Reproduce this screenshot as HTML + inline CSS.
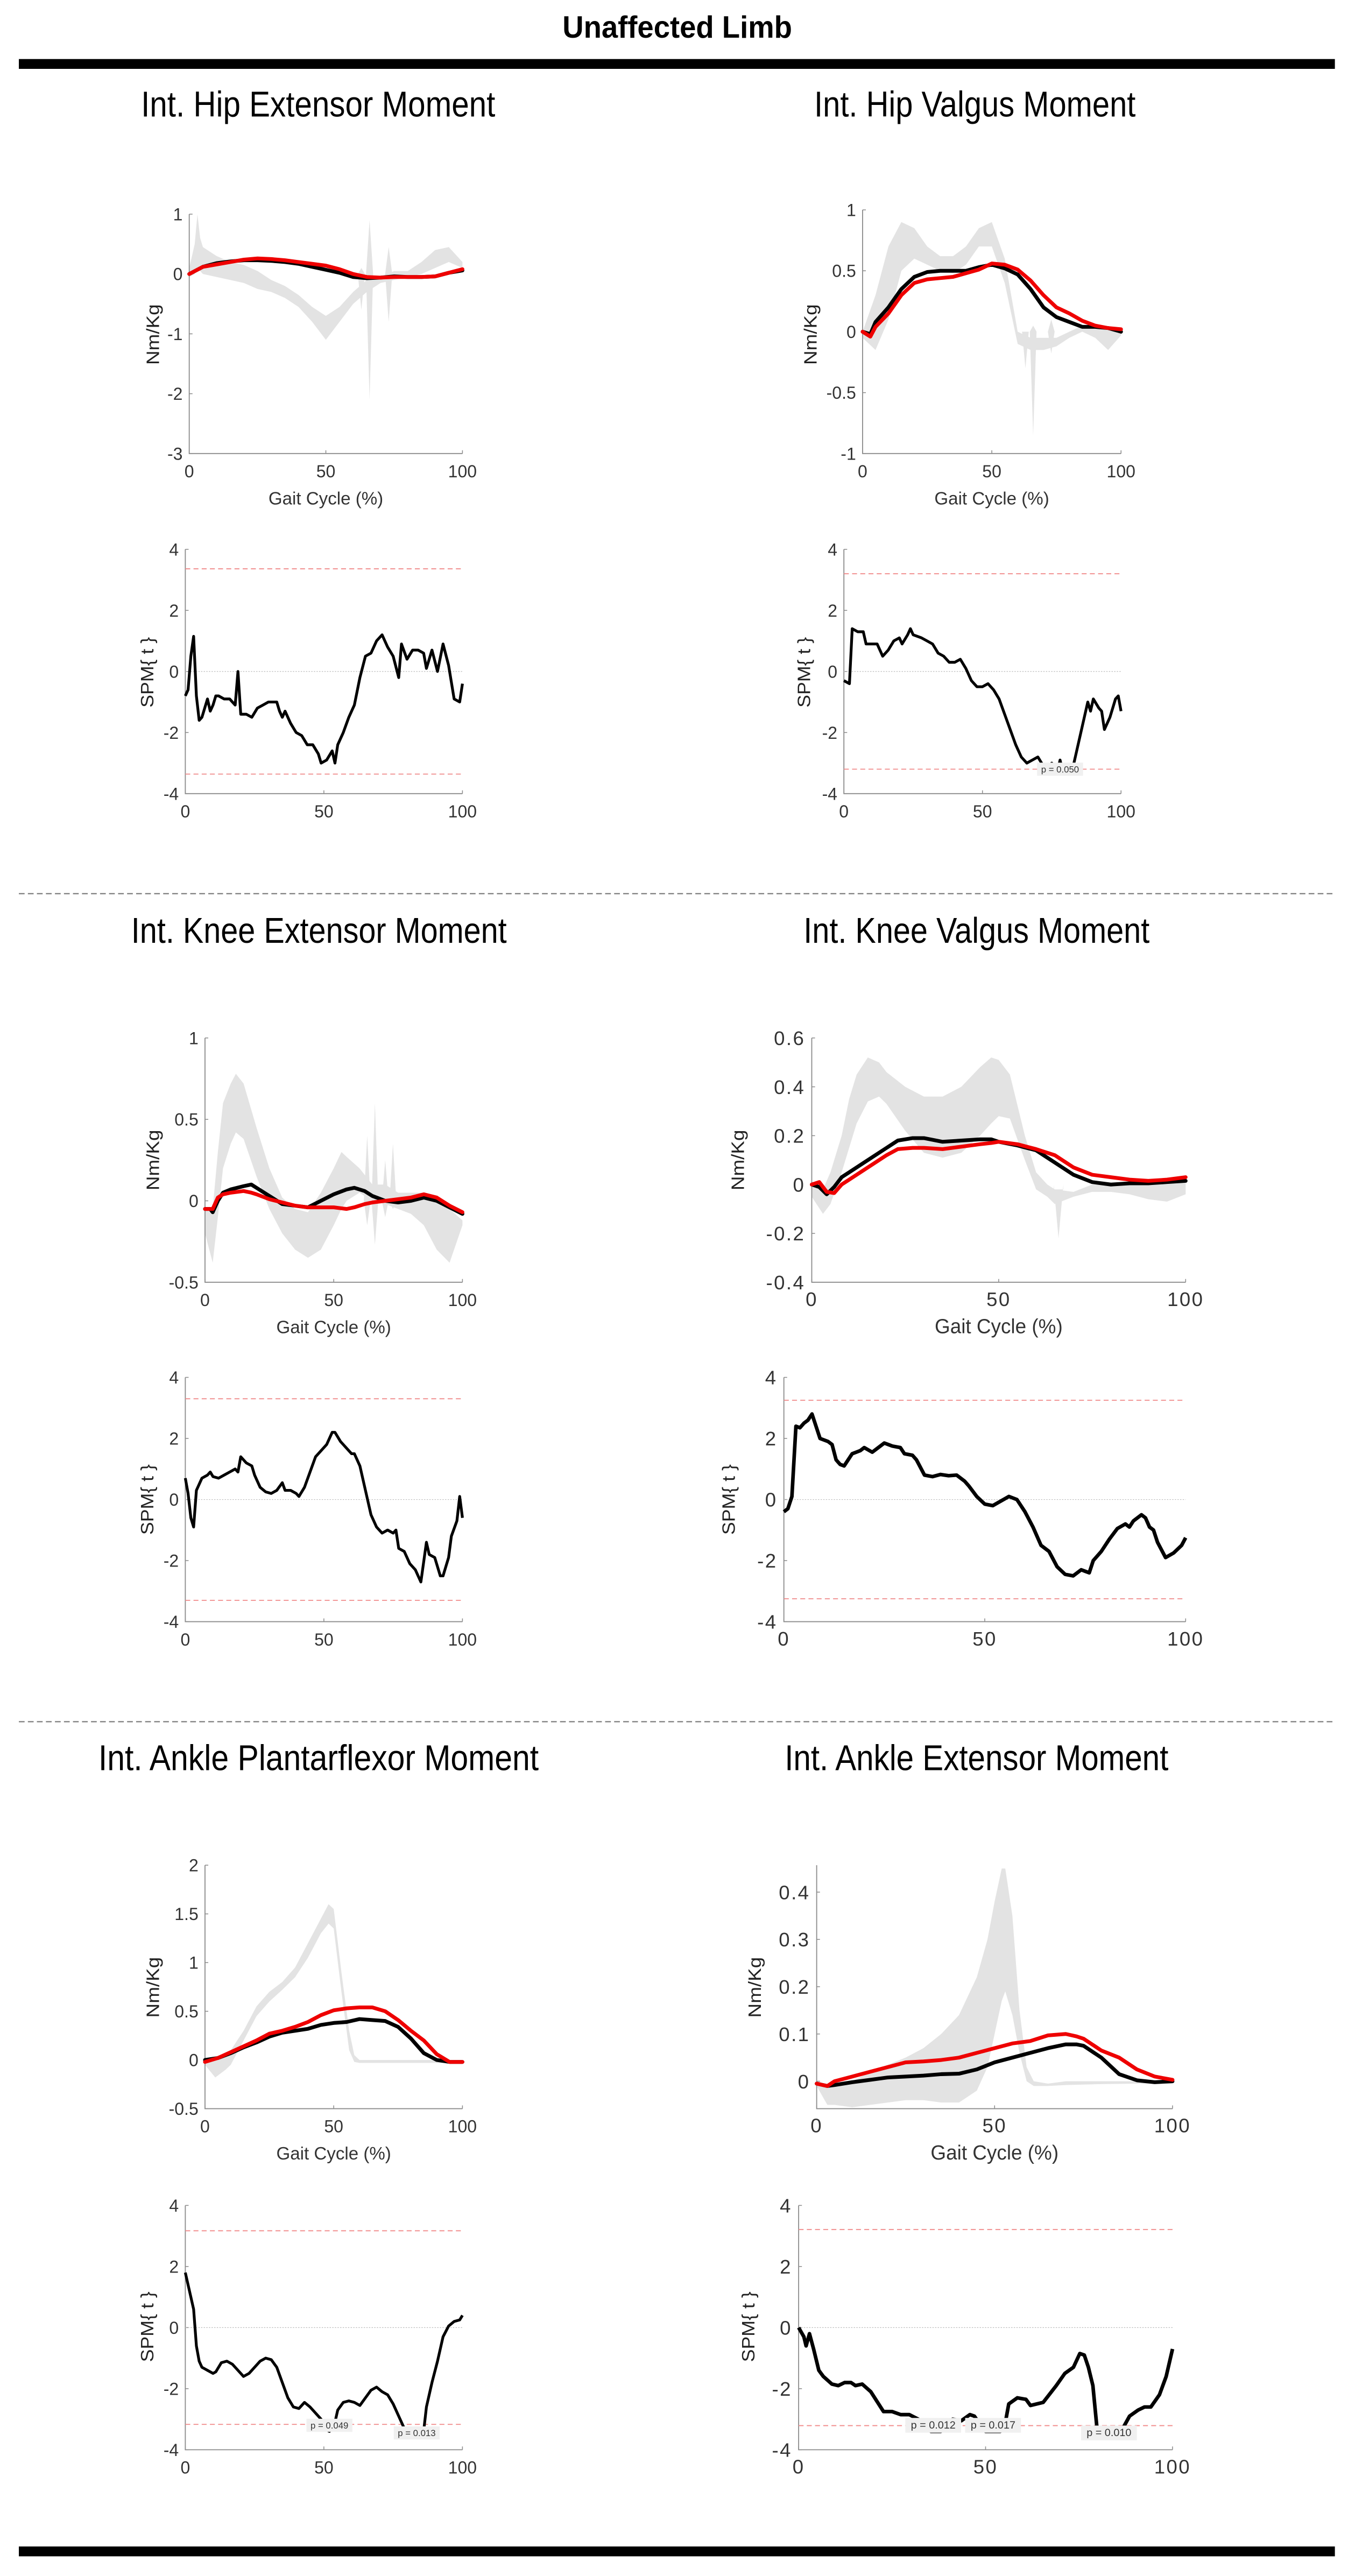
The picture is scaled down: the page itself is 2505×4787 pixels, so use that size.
<!DOCTYPE html>
<html><head><meta charset="utf-8"><title>Unaffected Limb</title>
<style>
html,body{margin:0;padding:0;background:#fff;}
svg{display:block;}
text{font-family:"Liberation Sans",sans-serif;}
</style></head>
<body>
<svg id="fig" width="2505" height="4787" viewBox="0 0 822 1571" preserveAspectRatio="none" xmlns="http://www.w3.org/2000/svg">
<text x="343" y="23" font-size="19" font-weight="bold" textLength="140" lengthAdjust="spacingAndGlyphs">Unaffected Limb</text>
<rect x="11.5" y="36" width="802.5" height="6" fill="#000"/>
<line x1="11.5" y1="545" x2="814" y2="545" stroke="#777" stroke-width="0.7" stroke-dasharray="3.5,2"/>
<line x1="11.5" y1="1050" x2="814" y2="1050" stroke="#777" stroke-width="0.7" stroke-dasharray="3.5,2"/>
<rect x="11.5" y="1553" width="802.5" height="6" fill="#000"/>
</svg>
<script>
// ===== Panel 1: Int. Hip Extensor Moment =====
const p1X=[0,5,10,15,20,25,30,35,40,45,50,55,60,65,70,75,80,85,90,95,100];
const p1Black=[0,0.12,0.18,0.21,0.23,0.23,0.22,0.2,0.17,0.12,0.07,0.02,-0.05,-0.07,-0.06,-0.04,-0.05,-0.05,-0.04,0.02,0.06];
const p1Red=[0,0.12,0.16,0.2,0.24,0.26,0.25,0.23,0.2,0.17,0.14,0.08,0,-0.05,-0.06,-0.05,-0.05,-0.05,-0.04,0.02,0.08];
const p1BandX=[0,2,3,4,5,10,15,20,25,30,35,40,45,50,55,60,65,70,75,80,85,90,95,100];
const p1BandHi=[0.1,0.5,1.0,0.6,0.45,0.3,0.2,0.15,0.05,-0.1,-0.2,-0.35,-0.55,-0.7,-0.55,-0.3,-0.1,-0.05,0.05,0.05,0.2,0.4,0.45,0.2];
const p1BandLo=[-0.05,0.0,0.1,0.05,0.0,-0.05,-0.1,-0.15,-0.25,-0.3,-0.4,-0.55,-0.8,-1.1,-0.8,-0.5,-0.3,-0.15,-0.1,-0.05,0.0,0.1,0.2,0.1];
const p1SpikeX=[63,66,73];
const p1SpikeLo=[-0.6,-2.1,-0.8];
const p1SpikeHi=[0.1,0.9,0.45];
const p1YTicks=[1,0,-1,-2,-3];
const p1SpmX=[0,1,2,3,4,5,6,7,8,9,10,11,12,14,16,18,19,20,22,24,26,28,30,32,33,34,35,36,38,40,42,44,46,48,49,51,53,54,55,57,59,61,63,65,67,69,71,73,75,77,78,80,82,84,86,87,89,91,93,95,97,99,100];
const p1Spm=[-0.8,-0.6,0.5,1.15,-0.8,-1.6,-1.5,-1.2,-0.9,-1.3,-1.1,-0.8,-0.8,-0.9,-0.9,-1.1,0.0,-1.4,-1.4,-1.5,-1.2,-1.1,-1.0,-1.0,-1.0,-1.3,-1.5,-1.3,-1.7,-2.0,-2.1,-2.4,-2.4,-2.7,-3.0,-2.9,-2.6,-3.0,-2.4,-2.0,-1.5,-1.1,-0.2,0.5,0.6,1.0,1.2,0.8,0.5,-0.2,0.9,0.4,0.7,0.7,0.6,0.1,0.7,0.0,0.9,0.2,-0.9,-1.0,-0.4];
const p1Thr=[3.36];
const p1PLabels=[];
const p1PX=[];
const p1PY=[];

// ===== Panel 2: Int. Hip Valgus Moment =====
const p2X=[0,3,5,10,15,20,25,30,35,40,45,50,55,60,65,70,75,80,85,90,95,100];
const p2Black=[0,-0.02,0.08,0.2,0.35,0.45,0.49,0.5,0.5,0.5,0.53,0.55,0.52,0.47,0.35,0.2,0.12,0.08,0.04,0.04,0.03,0.0];
const p2Red=[0,-0.04,0.04,0.15,0.3,0.4,0.43,0.44,0.45,0.48,0.51,0.56,0.55,0.51,0.42,0.3,0.2,0.15,0.09,0.05,0.03,0.02];
const p2BandX=[0,5,10,15,20,25,30,35,40,45,50,55,60,65,70,75,80,85,90,95,100];
const p2BandHi=[0,0.3,0.7,0.9,0.85,0.7,0.62,0.62,0.7,0.85,0.9,0.6,0.0,-0.05,-0.05,-0.05,0.0,0.05,0.05,0.02,0.0];
const p2BandLo=[-0.05,-0.15,0.1,0.5,0.6,0.55,0.5,0.48,0.55,0.7,0.7,0.4,-0.1,-0.15,-0.15,-0.12,-0.05,0.0,-0.05,-0.15,-0.03];
const p2SpikeX=[63,66,73];
const p2SpikeLo=[-0.3,-0.85,-0.18];
const p2SpikeHi=[0.0,0.05,0.1];
const p2YTicks=[1,0.5,0,-0.5,-1];
const p2SpmX=[0,2,3,5,7,8,10,12,14,16,18,20,21,23,24,25,28,30,32,34,36,38,40,42,44,46,48,50,52,54,56,58,60,62,64,66,68,70,72,74,75,77,78,79,81,83,84,86,88,89,90,92,93,94,96,98,99,100];
const p2Spm=[-0.3,-0.4,1.4,1.3,1.3,0.9,0.9,0.9,0.5,0.7,1.0,1.1,0.9,1.2,1.4,1.2,1.1,1.0,0.9,0.6,0.5,0.3,0.3,0.4,0.1,-0.3,-0.5,-0.5,-0.4,-0.6,-0.9,-1.4,-1.9,-2.4,-2.8,-3.0,-2.9,-2.8,-3.1,-3.3,-3.0,-3.3,-2.9,-3.3,-3.3,-3.0,-2.6,-1.8,-1.0,-1.3,-0.9,-1.2,-1.3,-1.9,-1.5,-0.9,-0.8,-1.3];
const p2Thr=[3.2];
const p2PLabels=['p = 0.050'];
const p2PX=[78];
const p2PY=[-3.2];

// ===== Panel 3: Int. Knee Extensor Moment =====
const p3X=[0,2,3,5,7,10,15,18,20,25,30,35,40,45,50,55,58,62,65,70,75,80,85,90,95,100];
const p3Black=[-0.05,-0.05,-0.07,0.0,0.05,0.07,0.09,0.1,0.08,0.03,-0.02,-0.03,-0.04,0.0,0.04,0.07,0.08,0.06,0.03,0.0,-0.01,0.0,0.02,0.0,-0.04,-0.08];
const p3Red=[-0.05,-0.05,-0.05,0.02,0.04,0.05,0.06,0.05,0.04,0.01,-0.01,-0.03,-0.04,-0.04,-0.04,-0.05,-0.04,-0.02,-0.01,0.0,0.01,0.02,0.04,0.02,-0.03,-0.07];
const p3BandX=[0,3,5,7,10,12,15,20,25,30,35,40,45,50,53,55,60,65,70,75,80,85,90,95,100];
const p3BandHi=[-0.05,-0.05,0.3,0.6,0.72,0.78,0.72,0.45,0.2,0.02,-0.05,-0.07,0.05,0.2,0.3,0.27,0.2,0.1,0.1,0.05,0.05,0.05,0.0,-0.05,-0.12];
const p3BandLo=[-0.2,-0.38,-0.1,0.2,0.35,0.42,0.38,0.15,-0.05,-0.2,-0.3,-0.35,-0.3,-0.15,-0.05,0.0,0.05,0.0,-0.02,-0.05,-0.08,-0.15,-0.3,-0.38,-0.15];
const p3SpikeX=[63,66,70,73];
const p3SpikeLo=[-0.15,-0.27,-0.1,-0.05];
const p3SpikeHi=[0.4,0.6,0.25,0.35];
const p3YTicks=[1,0.5,0,-0.5];
const p3SpmX=[0,1,2,3,4,5,6,8,9,10,12,14,16,18,19,20,22,24,25,27,29,31,33,35,36,38,40,41,43,45,47,49,51,53,54,56,58,60,61,63,65,67,69,71,73,75,76,77,79,81,83,85,87,88,90,92,93,95,96,98,99,100];
const p3Spm=[0.7,0.2,-0.6,-0.9,0.3,0.5,0.7,0.8,0.9,0.75,0.7,0.8,0.9,1.0,0.9,1.4,1.2,1.1,0.8,0.4,0.25,0.2,0.3,0.55,0.3,0.3,0.2,0.1,0.4,0.9,1.4,1.6,1.8,2.2,2.2,1.9,1.7,1.5,1.5,1.1,0.3,-0.5,-0.9,-1.1,-1.0,-1.1,-1.0,-1.6,-1.7,-2.1,-2.3,-2.7,-1.4,-1.8,-1.9,-2.5,-2.5,-1.9,-1.2,-0.7,0.1,-0.6];
const p3Thr=[3.3];
const p3PLabels=[];
const p3PX=[];
const p3PY=[];

// ===== Panel 4: Int. Knee Valgus Moment =====
const p4X=[0,2,4,6,8,10,15,20,23,27,30,35,40,45,48,50,55,60,65,70,75,80,85,90,95,100];
const p4Black=[0,-0.01,-0.04,-0.01,0.03,0.05,0.1,0.15,0.18,0.19,0.19,0.175,0.18,0.185,0.185,0.175,0.16,0.14,0.09,0.04,0.01,0.0,0.005,0.005,0.01,0.015];
const p4Red=[0,0.01,-0.03,-0.035,0.0,0.02,0.07,0.12,0.145,0.15,0.15,0.145,0.155,0.165,0.17,0.175,0.165,0.145,0.12,0.07,0.04,0.03,0.02,0.015,0.02,0.03];
const p4BandX=[0,3,5,8,10,12,15,18,20,25,30,35,40,45,48,50,53,57,60,63,65,70,75,80,85,90,95,100];
const p4BandHi=[0,-0.02,0.05,0.2,0.35,0.45,0.52,0.5,0.46,0.4,0.36,0.36,0.4,0.48,0.52,0.51,0.45,0.2,0.05,0.0,-0.02,-0.03,0.0,0.0,0.0,0.01,0.01,0.01];
const p4BandLo=[-0.05,-0.12,-0.08,0.05,0.15,0.25,0.34,0.36,0.33,0.22,0.13,0.11,0.13,0.2,0.25,0.28,0.27,0.1,-0.02,-0.05,-0.08,-0.05,-0.03,-0.03,-0.04,-0.06,-0.07,-0.04];
const p4SpikeX=[66];
const p4SpikeLo=[-0.22];
const p4SpikeHi=[-0.02];
const p4YTicks=[0.6,0.4,0.2,0,-0.2,-0.4];
const p4SpmX=[0,1,2,3,4,5,6,7,8,9,11,12,13,14,15,17,19,20,22,23,25,27,29,30,32,33,35,37,39,41,43,45,46,48,50,52,54,56,58,60,62,64,66,68,70,72,74,75,76,77,79,81,83,85,86,87,89,90,91,92,93,95,97,99,100];
const p4Spm=[-0.4,-0.3,0.1,2.4,2.35,2.5,2.6,2.8,2.4,2.0,1.9,1.8,1.3,1.15,1.1,1.5,1.6,1.7,1.55,1.65,1.85,1.75,1.7,1.5,1.45,1.3,0.8,0.75,0.82,0.78,0.8,0.6,0.45,0.1,-0.15,-0.2,-0.05,0.1,0.0,-0.4,-0.9,-1.5,-1.7,-2.2,-2.45,-2.5,-2.3,-2.35,-2.4,-2.0,-1.7,-1.3,-0.95,-0.8,-0.9,-0.7,-0.5,-0.6,-0.9,-1.0,-1.4,-1.9,-1.75,-1.5,-1.25];
const p4Thr=[3.25];
const p4PLabels=[];
const p4PX=[];
const p4PY=[];

// ===== Panel 5: Int. Ankle Plantarflexor Moment =====
const p5X=[0,5,10,15,20,25,30,35,40,45,50,55,60,65,70,75,80,85,90,95,100];
const p5Black=[0,0.02,0.07,0.13,0.18,0.24,0.28,0.3,0.32,0.36,0.38,0.39,0.42,0.41,0.4,0.34,0.22,0.07,0.0,-0.02,-0.02];
const p5Red=[-0.02,0.02,0.08,0.14,0.2,0.27,0.3,0.34,0.39,0.46,0.51,0.53,0.54,0.54,0.5,0.41,0.3,0.2,0.06,-0.02,-0.02];
const p5BandX=[0,4,8,10,15,20,25,30,35,40,45,48,50,53,56,58,60,70,80,90,100];
const p5BandHi=[0.0,0.0,0.05,0.1,0.3,0.55,0.7,0.8,0.95,1.2,1.45,1.6,1.55,0.9,0.3,0.05,0.0,0.0,0.0,0.0,0.0];
const p5BandLo=[-0.05,-0.18,-0.1,-0.05,0.2,0.45,0.6,0.72,0.85,1.05,1.3,1.4,1.35,0.7,0.1,-0.02,-0.03,-0.03,-0.03,-0.03,-0.03];
const p5SpikeX=[];
const p5SpikeLo=[];
const p5SpikeHi=[];
const p5YTicks=[2,1.5,1,0.5,0,-0.5];
const p5SpmX=[0,2,3,4,5,6,8,10,11,13,15,17,19,21,23,25,27,29,31,33,35,37,39,41,43,45,47,49,50,52,54,55,57,59,61,63,65,67,69,71,73,75,77,79,82,86,87,89,91,93,95,97,99,100];
const p5Spm=[1.8,1.0,0.6,-0.6,-1.1,-1.3,-1.4,-1.5,-1.45,-1.15,-1.1,-1.2,-1.4,-1.6,-1.5,-1.3,-1.1,-1.0,-1.05,-1.3,-1.8,-2.3,-2.6,-2.65,-2.45,-2.6,-2.8,-3.0,-3.3,-3.4,-3.1,-2.7,-2.45,-2.4,-2.45,-2.55,-2.3,-2.05,-1.95,-2.1,-2.2,-2.5,-2.9,-3.3,-3.5,-3.4,-2.6,-1.8,-1.1,-0.3,0.05,0.2,0.25,0.4];
const p5Thr=[3.17];
const p5PLabels=['p = 0.049','p = 0.013'];
const p5PX=[52,83.5];
const p5PY=[-3.2,-3.45];

// ===== Panel 6: Int. Ankle Extensor Moment =====
const p6X=[0,3,5,10,15,20,25,30,35,40,45,50,55,60,65,70,73,75,80,85,90,95,100];
const p6Black=[-0.005,-0.01,-0.008,-0.002,0.003,0.008,0.01,0.012,0.015,0.016,0.025,0.04,0.05,0.06,0.07,0.078,0.078,0.075,0.05,0.015,0.002,-0.002,0.0];
const p6Red=[-0.005,-0.01,0.0,0.01,0.02,0.03,0.04,0.042,0.045,0.05,0.06,0.07,0.08,0.085,0.097,0.1,0.095,0.09,0.065,0.05,0.025,0.01,0.003];
const p6BandX=[0,3,5,10,15,20,25,30,35,40,45,48,50,52,53,55,57,59,61,65,70,80,90,100];
const p6BandHi=[0.0,-0.01,-0.01,0.0,0.02,0.035,0.05,0.07,0.1,0.14,0.22,0.3,0.38,0.45,0.45,0.35,0.15,0.03,0.0,-0.005,0.0,0.0,0.0,0.0];
const p6BandLo=[-0.01,-0.05,-0.05,-0.055,-0.05,-0.045,-0.04,-0.04,-0.045,-0.045,-0.02,0.03,0.1,0.17,0.19,0.14,0.06,0.0,-0.01,-0.01,-0.008,-0.006,-0.005,-0.005];
const p6SpikeX=[];
const p6SpikeLo=[];
const p6SpikeHi=[];
const p6YTicks=[0.4,0.3,0.2,0.1,0];
const p6SpmX=[0,1.4,2,2.9,4,5.4,6.6,8.9,10.6,12.3,14,15.2,17,19.3,22.7,25,27.3,29.6,32,35.4,38,41.2,43.5,45.8,47,48.7,50,53.9,55,56.2,58.5,60.8,62,65.4,68.9,71.2,73.5,75.2,76.4,77.5,78.7,79.8,82,86.7,88.5,90.8,92.5,94.2,96.5,98.3,100];
const p6Spm=[0,-0.3,-0.6,-0.2,-0.7,-1.4,-1.6,-1.85,-1.9,-1.8,-1.8,-1.9,-1.85,-2.1,-2.75,-2.75,-2.85,-2.85,-3.0,-3.4,-3.4,-3.0,-3.05,-2.85,-2.9,-3.2,-3.4,-3.4,-3.3,-2.5,-2.3,-2.35,-2.55,-2.45,-1.9,-1.5,-1.3,-0.85,-0.9,-1.3,-1.9,-3.3,-3.6,-3.3,-2.9,-2.7,-2.6,-2.6,-2.2,-1.6,-0.7];
const p6Thr=[3.21];
const p6PLabels=['p = 0.012','p = 0.017','p = 0.010'];
const p6PX=[36,52,83];
const p6PY=[-3.2,-3.2,-3.45];

const spmTicks=[4,2,0,-2,-4];
const xTicks=[0,50,100];

// ----- layout (geometry only) -----
const panels=[
 {id:'hip-extensor',title:'Int. Hip Extensor Moment',tx0:86,tx1:302,ty:71,
  top:{x0:115.4,x1:282,yt:130.6,yb:276.6,vt:1,vb:-3,lx:93,ly:204,fs:10.5,wide:false},
  spm:{x0:113,x1:282,yt:335,yb:484,lx:89.5,ly:410,fs:10.5,lw:1.7},
  d:{X:p1X,B:p1Black,R:p1Red,BX:p1BandX,BH:p1BandHi,BL:p1BandLo,SX:p1SpikeX,SL:p1SpikeLo,SH:p1SpikeHi,YT:p1YTicks,SPX:p1SpmX,SP:p1Spm,TH:p1Thr,PL:p1PLabels,PX:p1PX,PY:p1PY}},
 {id:'hip-valgus',title:'Int. Hip Valgus Moment',tx0:496.5,tx1:692.5,ty:71,
  top:{x0:526,x1:683.6,yt:128,yb:276.6,vt:1,vb:-1,lx:494,ly:204,fs:10.5,wide:false},
  spm:{x0:514.6,x1:683.6,yt:335,yb:484,lx:490,ly:410,fs:10.5,lw:1.7},
  d:{X:p2X,B:p2Black,R:p2Red,BX:p2BandX,BH:p2BandHi,BL:p2BandLo,SX:p2SpikeX,SL:p2SpikeLo,SH:p2SpikeHi,YT:p2YTicks,SPX:p2SpmX,SP:p2Spm,TH:p2Thr,PL:p2PLabels,PX:p2PX,PY:p2PY}},
 {id:'knee-extensor',title:'Int. Knee Extensor Moment',tx0:80,tx1:309,ty:575,
  top:{x0:125,x1:282,yt:633,yb:782,vt:1,vb:-0.5,lx:93,ly:707.5,fs:10.5,wide:false},
  spm:{x0:113,x1:282,yt:840,yb:989,lx:89.5,ly:914.5,fs:10.5,lw:1.7},
  d:{X:p3X,B:p3Black,R:p3Red,BX:p3BandX,BH:p3BandHi,BL:p3BandLo,SX:p3SpikeX,SL:p3SpikeLo,SH:p3SpikeHi,YT:p3YTicks,SPX:p3SpmX,SP:p3Spm,TH:p3Thr,PL:p3PLabels,PX:p3PX,PY:p3PY}},
 {id:'knee-valgus',title:'Int. Knee Valgus Moment',tx0:490,tx1:701,ty:575,
  top:{x0:495,x1:723,yt:633,yb:782,vt:0.6,vb:-0.4,lx:449.6,ly:707.5,fs:12,wide:true},
  spm:{x0:478,x1:723,yt:840,yb:989,lx:444,ly:914.5,fs:12,lw:2.2},
  d:{X:p4X,B:p4Black,R:p4Red,BX:p4BandX,BH:p4BandHi,BL:p4BandLo,SX:p4SpikeX,SL:p4SpikeLo,SH:p4SpikeHi,YT:p4YTicks,SPX:p4SpmX,SP:p4Spm,TH:p4Thr,PL:p4PLabels,PX:p4PX,PY:p4PY}},
 {id:'ankle-plantarflexor',title:'Int. Ankle Plantarflexor Moment',tx0:60,tx1:328.5,ty:1079.5,
  top:{x0:125,x1:282,yt:1137.5,yb:1286,vt:2,vb:-0.5,lx:93,ly:1212,fs:10.5,wide:false},
  spm:{x0:113,x1:282,yt:1345,yb:1494,lx:89.5,ly:1419,fs:10.5,lw:1.7},
  d:{X:p5X,B:p5Black,R:p5Red,BX:p5BandX,BH:p5BandHi,BL:p5BandLo,SX:p5SpikeX,SL:p5SpikeLo,SH:p5SpikeHi,YT:p5YTicks,SPX:p5SpmX,SP:p5Spm,TH:p5Thr,PL:p5PLabels,PX:p5PX,PY:p5PY}},
 {id:'ankle-extensor',title:'Int. Ankle Extensor Moment',tx0:478.5,tx1:712.5,ty:1079.5,
  top:{x0:498,x1:715,yt:1137.5,yb:1286,vt:0.457,vb:-0.058,lx:460,ly:1212,fs:12,wide:true},
  spm:{x0:487,x1:715,yt:1345,yb:1494,lx:456,ly:1419,fs:12,lw:2.2},
  d:{X:p6X,B:p6Black,R:p6Red,BX:p6BandX,BH:p6BandHi,BL:p6BandLo,SX:p6SpikeX,SL:p6SpikeLo,SH:p6SpikeHi,YT:p6YTicks,SPX:p6SpmX,SP:p6Spm,TH:p6Thr,PL:p6PLabels,PX:p6PX,PY:p6PY}}
];

const NS='http://www.w3.org/2000/svg';
const svg=document.getElementById('fig');
function mk(tag,attrs,parent){const e=document.createElementNS(NS,tag);for(const k in attrs)e.setAttribute(k,attrs[k]);(parent||svg).appendChild(e);return e;}
function fmt(v){return String(v);}

panels.forEach(function(P){
  const g=mk('g',{});
  
  
  const t=mk('text',{x:P.tx0,y:P.ty,'font-size':22,textLength:(P.tx1-P.tx0),lengthAdjust:'spacingAndGlyphs',fill:'#000'},g);
  t.textContent=P.title;
  
  

  // ---------- top chart ----------
  const T=P.top,D=P.d;
  const sx=v=>T.x0+(v/100)*(T.x1-T.x0);
  const sy=v=>T.yt+(T.vt-v)/(T.vt-T.vb)*(T.yb-T.yt);
  const tg=mk('g',{},g);
  
  
  let pts=[];
  D.BX.forEach((x,i)=>pts.push(sx(x)+','+sy(D.BH[i])));
  for(let i=D.BX.length-1;i>=0;i--)pts.push(sx(D.BX[i])+','+sy(D.BL[i]));
  const band=mk('polygon',{points:pts.join(' '),fill:'#e3e3e3'},tg);
  
  
  D.SX.forEach((x,i)=>{
    const sp=mk('polygon',{points:[sx(x-1.3)+','+sy(Math.min(0,D.SH[i])),sx(x)+','+sy(D.SH[i]),sx(x+1.3)+','+sy(Math.min(0,D.SH[i])),sx(x+1.3)+','+sy(Math.max(D.SL[i],-0.0)),sx(x)+','+sy(D.SL[i]),sx(x-1.3)+','+sy(Math.max(D.SL[i],-0.0))].join(' '),fill:'#e3e3e3'},tg);
    
    
  });
  const ax=mk('path',{d:'M'+T.x0+','+T.yt+' V'+T.yb+' H'+T.x1,fill:'none',stroke:'#8c8c8c','stroke-width':0.6},tg);
  
  
  D.YT.forEach(v=>{
    mk('line',{x1:T.x0,y1:sy(v),x2:T.x0+2,y2:sy(v),stroke:'#8c8c8c','stroke-width':0.5},tg);
    const l=mk('text',{x:T.x0-4,y:sy(v)+T.fs*0.36,'font-size':T.fs,'text-anchor':'end',fill:'#333','letter-spacing':T.wide?0.8:0},tg);
    l.textContent=fmt(v);
    
    
  });
  xTicks.forEach(v=>{
    mk('line',{x1:sx(v),y1:T.yb,x2:sx(v),y2:T.yb-2,stroke:'#8c8c8c','stroke-width':0.5},tg);
    const l=mk('text',{x:sx(v),y:T.yb+14.5,'font-size':T.fs,'text-anchor':'middle',fill:'#333','letter-spacing':T.wide?0.8:0},tg);
    l.textContent=fmt(v);
    
    
  });
  const gw=T.wide?78:70;
  const xl=mk('text',{x:(T.x0+T.x1)/2-gw/2,y:T.yb+31,'font-size':T.fs+0.5,fill:'#333',textLength:gw,lengthAdjust:'spacingAndGlyphs'},tg);
  xl.textContent='Gait Cycle (%)';
  
  
  const yl=mk('text',{x:0,y:0,'font-size':11,fill:'#222','text-anchor':'middle',textLength:37,lengthAdjust:'spacingAndGlyphs',transform:'translate('+(T.lx+4)+','+T.ly+') rotate(-90)'},tg);
  yl.textContent='Nm/Kg';
  
  
  const lineB=mk('polyline',{points:D.X.map((x,i)=>sx(x)+','+sy(D.B[i])).join(' '),fill:'none',stroke:'#000','stroke-width':2.3,'stroke-linejoin':'round','stroke-linecap':'round'},tg);
  
  
  const lineR=mk('polyline',{points:D.X.map((x,i)=>sx(x)+','+sy(D.R[i])).join(' '),fill:'none',stroke:'#ee0000','stroke-width':2.3,'stroke-linejoin':'round','stroke-linecap':'round'},tg);
  
  

  // ---------- SPM chart ----------
  const S=P.spm;
  const qx=v=>S.x0+(v/100)*(S.x1-S.x0);
  const qy=v=>S.yt+(4-v)/8*(S.yb-S.yt);
  const sg=mk('g',{},g);
  
  
  const ax2=mk('path',{d:'M'+S.x0+','+S.yt+' V'+S.yb+' H'+S.x1,fill:'none',stroke:'#8c8c8c','stroke-width':0.6},sg);
  
  
  spmTicks.forEach(v=>{
    mk('line',{x1:S.x0,y1:qy(v),x2:S.x0+2,y2:qy(v),stroke:'#8c8c8c','stroke-width':0.5},sg);
    const l=mk('text',{x:S.x0-4,y:qy(v)+S.fs*0.36,'font-size':S.fs,'text-anchor':'end',fill:'#333','letter-spacing':S.lw>2?0.8:0},sg);
    l.textContent=fmt(v);
    
    
  });
  xTicks.forEach(v=>{
    mk('line',{x1:qx(v),y1:S.yb,x2:qx(v),y2:S.yb-2,stroke:'#8c8c8c','stroke-width':0.5},sg);
    const l=mk('text',{x:qx(v),y:S.yb+14.5,'font-size':S.fs,'text-anchor':'middle',fill:'#333','letter-spacing':S.lw>2?0.8:0},sg);
    l.textContent=fmt(v);
    
    
  });
  const zl=mk('line',{x1:S.x0,y1:qy(0),x2:S.x1,y2:qy(0),stroke:'#bbb','stroke-width':0.4,'stroke-dasharray':'0.8,0.8'},sg);
  
  
  [D.TH[0],-D.TH[0]].forEach(v=>{
    const th=mk('line',{x1:S.x0,y1:qy(v),x2:S.x1,y2:qy(v),stroke:'#f08a8a','stroke-width':0.6,'stroke-dasharray':'3,2'},sg);
    
    
  });
  const yl2=mk('text',{x:0,y:0,'font-size':11,fill:'#222','text-anchor':'middle',textLength:43,lengthAdjust:'spacingAndGlyphs',transform:'translate('+(S.lx+4)+','+S.ly+') rotate(-90)'},sg);
  yl2.textContent='SPM{ t }';
  
  
  const sl=mk('polyline',{points:D.SPX.map((x,i)=>qx(x)+','+qy(D.SP[i])).join(' '),fill:'none',stroke:'#000','stroke-width':S.lw,'stroke-linejoin':'round'},sg);
  
  
  D.PL.forEach((txt,i)=>{
    const w=S.lw>2?34:28,h=S.lw>2?9:8;
    const cx=qx(D.PX[i]),cy=qy(D.PY[i]);
    const pg=mk('g',{},sg);
    
    
    mk('rect',{x:cx-w/2,y:cy-h/2,width:w,height:h,fill:'#f0f0f0'},pg);
    const pt=mk('text',{x:cx,y:cy+2,'font-size':S.lw>2?6.5:5.5,'text-anchor':'middle',fill:'#333'},pg);
    pt.textContent=txt;
  });
});
</script>
</body></html>
